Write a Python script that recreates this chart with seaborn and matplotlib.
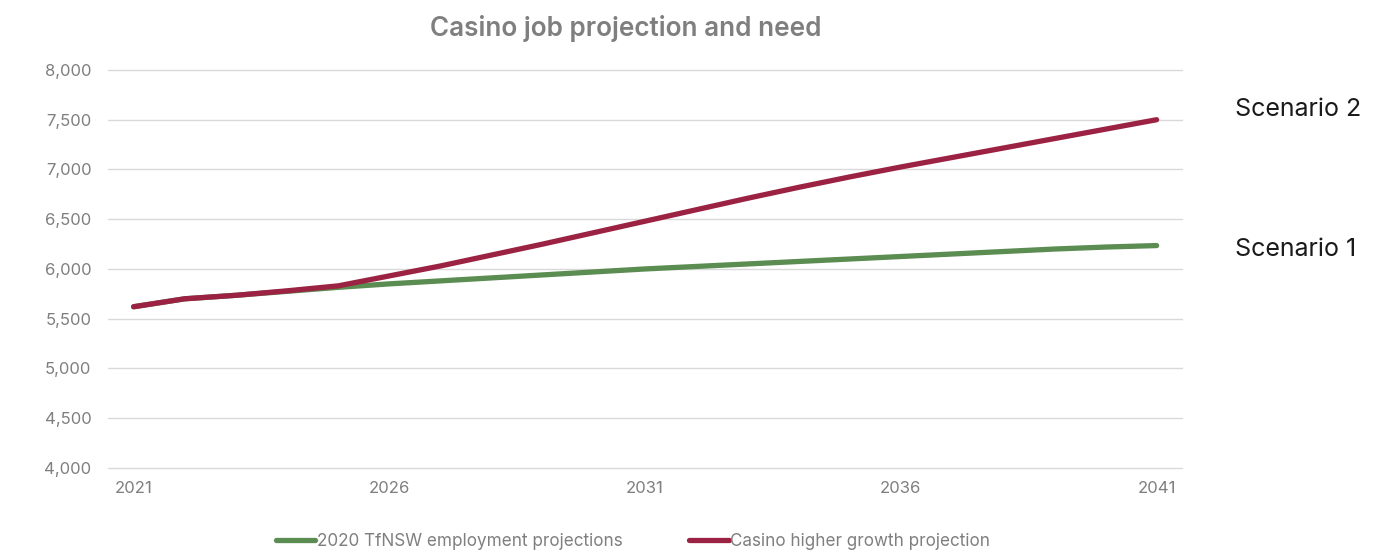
import matplotlib
matplotlib.use("Agg")
import matplotlib.pyplot as plt
import matplotlib.ticker as mticker
import seaborn as sns
import pandas as pd

years = list(range(2021, 2042))
tfnsw = [5620, 5700, 5735, 5775, 5815, 5850, 5880, 5910, 5940, 5970, 6000,
         6025, 6050, 6075, 6100, 6125, 6150, 6175, 6200, 6220, 6235]
casino = [5620, 5700, 5735, 5780, 5830, 5930, 6030, 6140, 6250, 6365, 6480,
          6595, 6710, 6820, 6925, 7025, 7120, 7215, 7310, 7405, 7500]
series_names = ["2020 TfNSW employment projections", "Casino higher growth projection"]
colors = ["#5b8c51", "#9b2242"]
scenario_labels = ["Scenario 2", "Scenario 1"]
xticks = [2021, 2026, 2031, 2036, 2041]
title = "Casino job projection and need"

df = pd.DataFrame({
    "year": years * 2,
    "jobs": tfnsw + casino,
    "series": [series_names[0]] * len(years) + [series_names[1]] * len(years),
})

sns.set_theme(style="white")
plt.rcParams["font.family"] = ["Inter", "DejaVu Sans"]

fig = plt.figure(figsize=(13.89, 5.51), dpi=100)
ax = fig.add_axes([0.0778, 0.149, 0.7733, 0.724])

sns.lineplot(data=df, x="year", y="jobs", hue="series", palette=colors,
             linewidth=3.8, ax=ax, legend=True, solid_capstyle="round")

ax.set_xlim(2020.5, 2041.5)
ax.set_ylim(3990, 8000)
ax.set_yticks(range(4000, 8001, 500))
ax.yaxis.set_major_formatter(mticker.FuncFormatter(lambda v, p: f"{int(v):,}"))
ax.set_xticks(xticks)
ax.grid(axis="y", color="#d9d9d9", linewidth=1)
for gl in ax.get_ygridlines():
    gl.set_clip_on(False)
ax.set_axisbelow(True)
for s in ax.spines.values():
    s.set_visible(False)
ax.tick_params(axis="both", colors="#7f7f7f", labelsize=12, length=0)
ax.tick_params(axis="x", pad=9)
ax.tick_params(axis="y", pad=12)
ax.set_xlabel("")
ax.set_ylabel("")

handles, labels = ax.get_legend_handles_labels()
ax.legend(handles, labels, loc="upper center", bbox_to_anchor=(0.489, -0.123),
          ncol=2, frameon=False, fontsize=12.3, labelcolor="#7f7f7f",
          handlelength=2.3, handletextpad=0.1, columnspacing=3.9)

fig.text(626 / 1389, 1 - 28 / 551, title, ha="center", va="center",
         fontsize=18.8, fontweight="semibold", color="#7f7f7f")

ax.annotate(scenario_labels[0], xy=(1.0, casino[-1]), xycoords=("axes fraction", "data"),
            xytext=(38, 7), textcoords="offset points", fontsize=18, color="#1a1a1a",
            va="center", ha="left")
ax.annotate(scenario_labels[1], xy=(1.0, tfnsw[-1]), xycoords=("axes fraction", "data"),
            xytext=(38, -3), textcoords="offset points", fontsize=18, color="#1a1a1a",
            va="center", ha="left")

fig.savefig("out.png", dpi=100)
